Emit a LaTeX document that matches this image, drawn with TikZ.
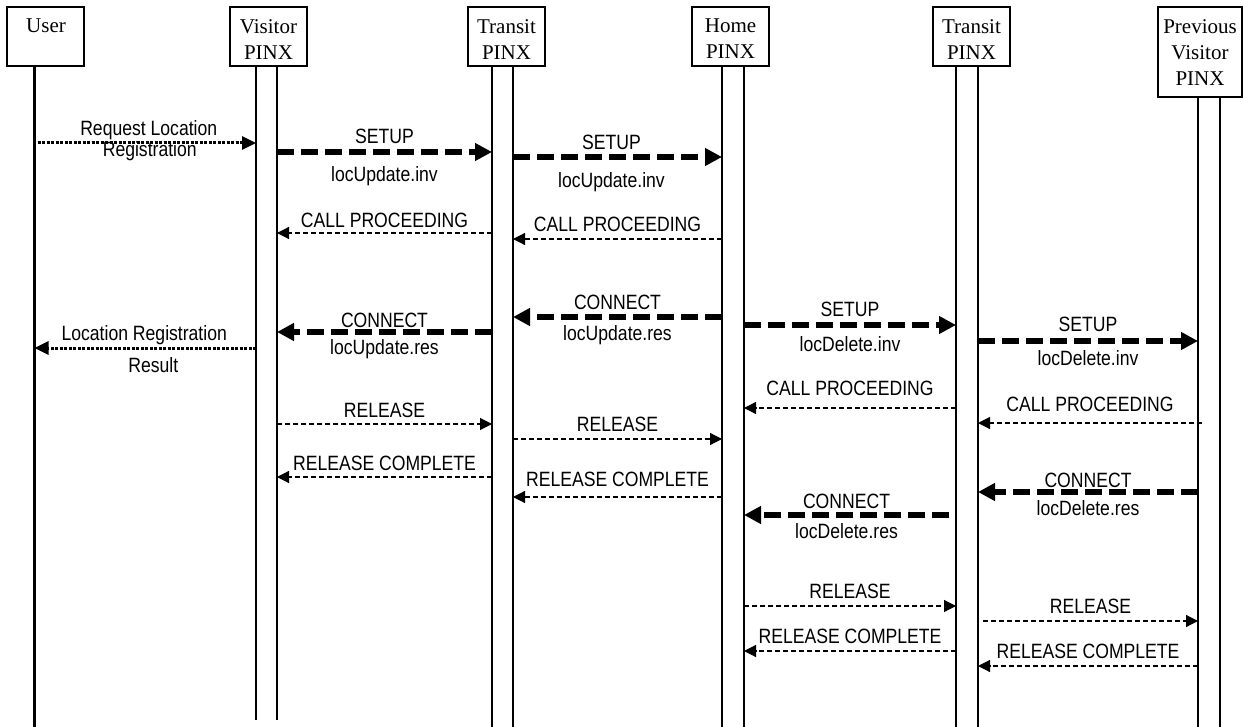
\documentclass[tikz,border=0pt]{standalone}
\usepackage{fontspec}
\setmainfont{Liberation Serif}
\newfontfamily\lblfont[FakeStretch=0.85]{Liberation Sans}
\usetikzlibrary{arrows.meta,calc}
\tikzset{
  boxnode/.style={draw,line width=2.6pt,minimum width=77pt,minimum height=59pt,inner sep=0pt},
  boxtxt/.style={anchor=north,inner sep=0pt,align=center,font=\fontsize{21}{26}\selectfont},
  life/.style={line width=2.2pt},
  thickmsg/.style={line width=5.5pt,dash pattern=on 17pt off 7pt,-{Triangle[length=17pt,width=17pt]}},
  thinmsg/.style={line width=1.2pt,dash pattern=on 5pt off 3pt,-{Triangle[length=12pt,width=12pt]}},
  dotmsg/.style={line width=3pt,dash pattern=on 3pt off 1.5pt,-{Triangle[length=14pt,width=13pt]}},
  lbl/.style={anchor=base,inner sep=0pt,font=\lblfont\fontsize{20.7}{24}\selectfont}
}
\newcommand\msg[6]{%
  \coordinate (#2s) at ($(#3)+(#4,#6)$);
  \coordinate (#2e) at ($(#5)+(0,#6)$);
  \draw[#1] (#2s) -- (#2e);}
\newcommand\lbl[5]{%
  \node[lbl] (#1#2) at ($(#1s)!0.5!(#1e)+(#3,#4)$) {#5};}
\begin{document}
\begin{tikzpicture}[x=1pt,y=-1pt]
\useasboundingbox (0,0) rectangle (1245,727);
% boxes
\node[boxnode] (user) at (45.5,36.5) {};
\node[boxnode] (visitor) at (268.5,36.5) {};
\node[boxnode] (transitA) at (506.5,36.5) {};
\node[boxnode] (home) at (730.5,36.5) {};
\node[boxnode] (transitB) at (971.5,36.5) {};
\node[boxnode,minimum width=84pt,minimum height=90pt] (prev) at (1200,52) {};
\node[boxtxt] (userT) at (46,19) {User};
\node[boxtxt] (visitorT) at (268.5,19) {Visitor\\PINX};
\node[boxtxt] (transitAT) at (506.5,19) {Transit\\PINX};
\node[boxtxt] (homeT) at (730.5,19) {Home\\PINX};
\node[boxtxt] (transitBT) at (971.5,19) {Transit\\PINX};
\node[boxtxt] (prevT) at (1200,19) {Previous\\Visitor\\PINX};
% lifeline coordinates
\coordinate (uL) at (34.5,0);
\coordinate (vL) at (256,0);
\coordinate (vR) at (277,0);
\coordinate (aL) at (492,0);
\coordinate (aR) at (513,0);
\coordinate (hL) at (722,0);
\coordinate (hR) at (744,0);
\coordinate (bL) at (956,0);
\coordinate (bR) at (978,0);
\coordinate (pL) at (1198,0);
\coordinate (pR) at (1220,0);
\coordinate (bot) at (0,727);
\coordinate (vbot) at (0,720);
% lifelines
\draw[life] (uL |- user.south) -- (uL |- bot);
\draw[life] (vL |- visitor.south) -- (vL |- vbot);
\draw[life] (vR |- visitor.south) -- (vR |- vbot);
\draw[life] (aL |- transitA.south) -- (aL |- bot);
\draw[life] (aR |- transitA.south) -- (aR |- bot);
\draw[life] (hL |- home.south) -- (hL |- bot);
\draw[life] (hR |- home.south) -- (hR |- bot);
\draw[life] (bL |- transitB.south) -- (bL |- bot);
\draw[life] (bR |- transitB.south) -- (bR |- bot);
\draw[life] (pL |- prev.south) -- (pL |- bot);
\draw[life] (pR |- prev.south) -- (pR |- bot);
% messages
\msg{dotmsg}{m1}{uL}{3}{vL}{143}
\lbl{m1}{a}{2}{-7}{Request Location}
\lbl{m1}{b}{3}{14}{Registration}
\msg{thickmsg}{m2}{vR}{0}{aL}{152}
\lbl{m2}{a}{0}{-8}{SETUP}
\lbl{m2}{b}{0}{30}{locUpdate.inv}
\msg{thickmsg}{m3}{aR}{0}{hL}{157}
\lbl{m3}{a}{-6}{-7}{SETUP}
\lbl{m3}{b}{-6}{31}{locUpdate.inv}
\msg{thinmsg}{m4}{aL}{0}{vR}{233}
\lbl{m4}{a}{0}{-5}{CALL PROCEEDING}
\msg{thinmsg}{m5}{hL}{0}{aR}{239}
\lbl{m5}{a}{0}{-7}{CALL PROCEEDING}
\msg{thickmsg}{m6}{hL}{0}{aR}{317}
\lbl{m6}{a}{0}{-8}{CONNECT}
\lbl{m6}{b}{0}{24}{locUpdate.res}
\msg{thickmsg}{m7}{aL}{0}{vR}{332}
\lbl{m7}{a}{0}{-5}{CONNECT}
\lbl{m7}{b}{0}{22}{locUpdate.res}
\msg{dotmsg}{m8}{vL}{0}{uL}{348}
\lbl{m8}{a}{-1}{-7}{Location Registration}
\lbl{m8}{b}{8}{24}{Result}
\msg{thickmsg}{m9}{hR}{0}{bL}{325}
\lbl{m9}{a}{0}{-8}{SETUP}
\lbl{m9}{b}{0}{27}{locDelete.inv}
\msg{thickmsg}{m10}{bR}{0}{pL}{341}
\lbl{m10}{a}{0}{-9}{SETUP}
\lbl{m10}{b}{0}{25}{locDelete.inv}
\msg{thinmsg}{m11}{bL}{0}{hR}{408}
\lbl{m11}{a}{0}{-13}{CALL PROCEEDING}
\msg{thinmsg}{m12}{pL}{4}{bR}{423}
\lbl{m12}{a}{0}{-12}{CALL PROCEEDING}
\msg{thinmsg}{m13}{vR}{0}{aL}{424}
\lbl{m13}{a}{0}{-7}{RELEASE}
\msg{thinmsg}{m14}{aR}{0}{hL}{439}
\lbl{m14}{a}{0}{-8}{RELEASE}
\msg{thinmsg}{m15}{aL}{0}{vR}{477}
\lbl{m15}{a}{0}{-7}{RELEASE COMPLETE}
\msg{thinmsg}{m16}{hL}{0}{aR}{497}
\lbl{m16}{a}{0}{-11}{RELEASE COMPLETE}
\msg{thickmsg}{m17}{pL}{0}{bR}{492}
\lbl{m17}{a}{0}{-5}{CONNECT}
\lbl{m17}{b}{0}{23}{locDelete.res}
\msg{thickmsg}{m18}{bL}{-7}{hR}{515}
\lbl{m18}{a}{0}{-7}{CONNECT}
\lbl{m18}{b}{0}{23}{locDelete.res}
\msg{thinmsg}{m19}{hR}{0}{bL}{606}
\lbl{m19}{a}{0}{-8}{RELEASE}
\msg{thinmsg}{m20}{bR}{5}{pL}{621}
\lbl{m20}{a}{0}{-8}{RELEASE}
\msg{thinmsg}{m21}{bL}{0}{hR}{651}
\lbl{m21}{a}{0}{-8}{RELEASE COMPLETE}
\msg{thinmsg}{m22}{pL}{0}{bR}{666}
\lbl{m22}{a}{0}{-8}{RELEASE COMPLETE}
\end{tikzpicture}
\end{document}
